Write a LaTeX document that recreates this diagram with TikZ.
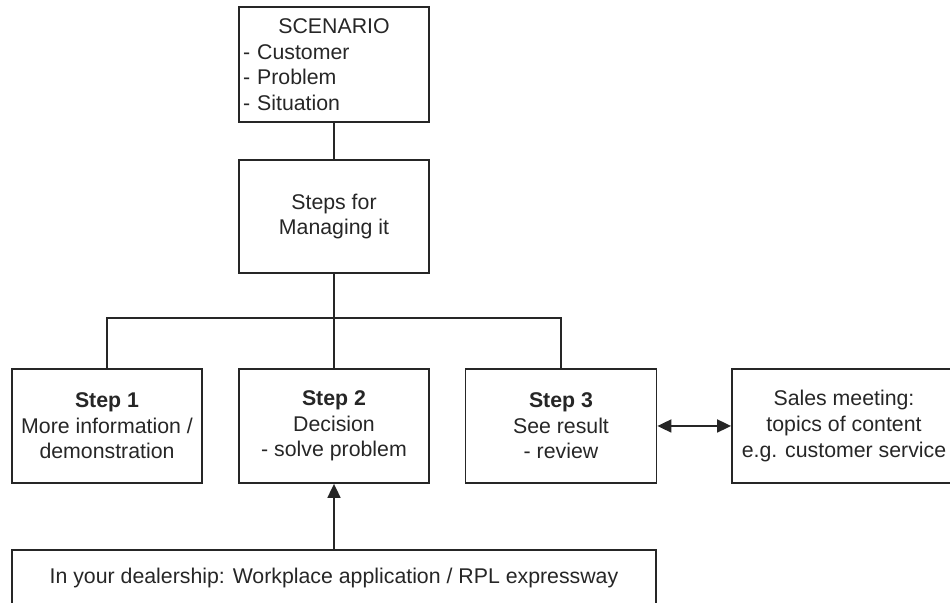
\documentclass[tikz,border=0pt]{standalone}
\usepackage{fontspec}
\setmainfont{Liberation Sans}
\usetikzlibrary{arrows.meta}

\begin{document}
\begin{tikzpicture}[x=0.5pt, y=-0.5pt,
	blok/.style={draw=black!85, line width=0.9pt, text=black!85, align=center, inner sep=2pt, font=\fontsize{10.65}{12.8}\selectfont},
	verb/.style={black!85, line width=0.9pt},
	pijl/.style={-{Triangle[length=7pt, width=6.5pt]}}]
\useasboundingbox (0,0) rectangle (950,603);
\node[blok, minimum width=95pt, minimum height=57.5pt, text width=91pt, align=left](scen) at (334,64.5){\makebox[\linewidth]{SCENARIO}\\- Customer\\- Problem\\- Situation};
\node[blok, minimum width=95pt, minimum height=56.5pt](manage) at (334,216.5){Steps for\\Managing it};
\node[blok, minimum width=95pt, minimum height=57pt](step1) at (107,426){\textbf{Step 1}\\More information /\\demonstration};
\node[blok, minimum width=95pt, minimum height=57pt](step2) at (334,426){\textbf{Step 2}\\Decision\\- solve problem};
\node[blok, minimum width=95.5pt, minimum height=57pt](step3) at (561,426){\textbf{Step 3}\\See result\\- review};
\node[blok, minimum width=112pt, minimum height=57pt](sales) at (844,426){Sales meeting:\\topics of content\\e.g. customer service};
\node[blok, minimum width=322pt, minimum height=28pt](dealer) at (334,578){In your dealership: Workplace application / RPL expressway};
\draw[verb](scen)--(manage);
\draw[verb](manage)--(step2);
\draw[verb](step1.north)--++(0,-50)-|(step3.north);
\draw[verb, pijl](dealer)--(step2);
\draw[verb, {Triangle[length=7pt, width=6.5pt]}-{Triangle[length=7pt, width=6.5pt]}](step3)--(sales);
\end{tikzpicture}
\end{document}
